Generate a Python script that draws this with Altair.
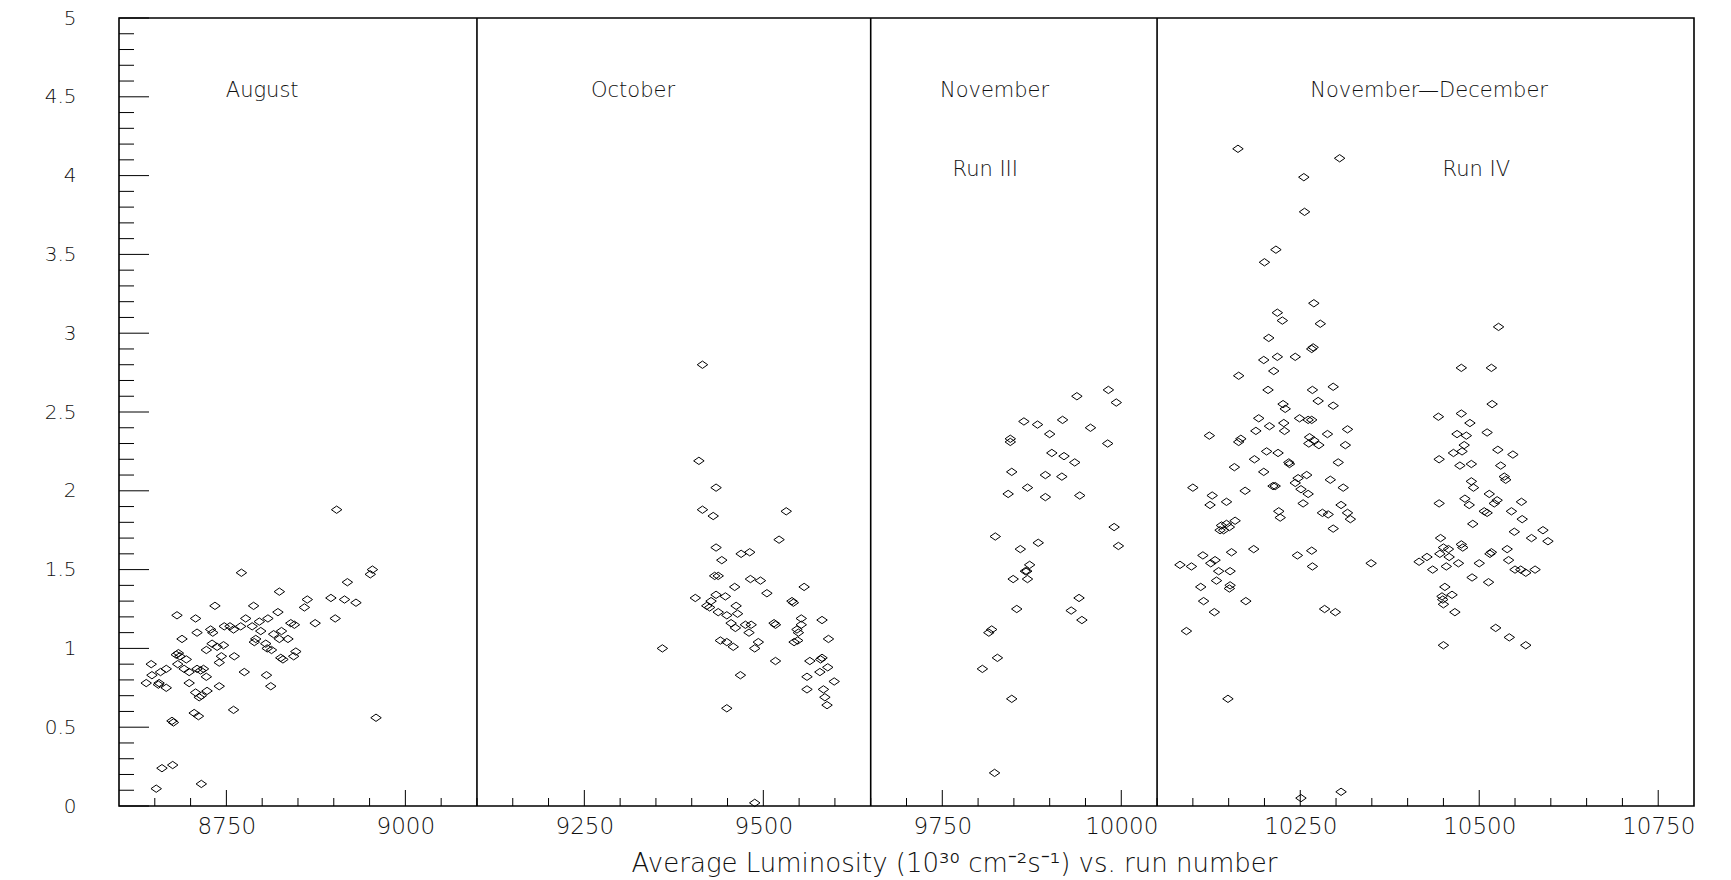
import altair as alt
import pandas as pd

# ---------------------------------------------------------------------------
# Average luminosity per run, grouped by data-taking period
# ---------------------------------------------------------------------------
aug_run = [8904, 8771, 8954, 8951, 8919, 8824, 8896, 8915, 8931, 8863, 8859, 8734,
           8788, 8681, 8707, 8777, 8808, 8822, 8902, 8874, 8840, 8845, 8747, 8755,
           8760, 8770, 8786, 8796, 8798, 8728, 8731, 8709, 8688, 8827, 8816, 8824,
           8836, 8791, 8789, 8805, 8730, 8737, 8746, 8722, 8807, 8813, 8847, 8844,
           8826, 8829, 8683, 8685, 8680, 8694, 8682, 8743, 8740, 8761, 8645, 8666,
           8658, 8646, 8691, 8698, 8709, 8714, 8718, 8722, 8775, 8638, 8655, 8656,
           8666, 8698, 8740, 8806, 8812, 8707, 8723, 8712, 8715, 8760, 8674, 8676,
           8705, 8711, 8959, 8660, 8675, 8715, 8652]
aug_lum = [1.88, 1.48, 1.50, 1.47, 1.42, 1.36, 1.32, 1.31, 1.29, 1.31, 1.26, 1.27,
           1.27, 1.21, 1.19, 1.19, 1.19, 1.23, 1.19, 1.16, 1.16, 1.15, 1.14, 1.14,
           1.12, 1.14, 1.14, 1.17, 1.11, 1.12, 1.10, 1.10, 1.06, 1.11, 1.09, 1.06,
           1.06, 1.06, 1.04, 1.03, 1.03, 1.01, 1.02, 0.99, 1.00, 0.99, 0.98, 0.95,
           0.94, 0.93, 0.97, 0.95, 0.96, 0.93, 0.90, 0.95, 0.91, 0.95, 0.90, 0.87,
           0.85, 0.83, 0.87, 0.85, 0.87, 0.86, 0.87, 0.82, 0.85, 0.78, 0.77, 0.78,
           0.75, 0.78, 0.76, 0.83, 0.76, 0.72, 0.73, 0.69, 0.70, 0.61, 0.54, 0.53,
           0.59, 0.57, 0.56, 0.24, 0.26, 0.14, 0.11]

oct_run = [9415, 9410, 9434, 9415, 9430, 9532, 9522, 9434, 9469, 9481, 9442, 9432,
           9437, 9460, 9482, 9496, 9557, 9505, 9405, 9434, 9447, 9427, 9421, 9425,
           9462, 9437, 9449, 9464, 9540, 9542, 9553, 9582, 9455, 9461, 9475, 9483,
           9480, 9515, 9517, 9553, 9547, 9549, 9591, 9440, 9449, 9458, 9493, 9488,
           9543, 9548, 9359, 9517, 9565, 9580, 9582, 9590, 9579, 9561, 9468, 9599,
           9561, 9584, 9586, 9589, 9449, 9488]
oct_lum = [2.80, 2.19, 2.02, 1.88, 1.84, 1.87, 1.69, 1.64, 1.60, 1.61, 1.56, 1.46,
           1.46, 1.39, 1.44, 1.43, 1.39, 1.35, 1.32, 1.34, 1.33, 1.30, 1.27, 1.26,
           1.27, 1.23, 1.21, 1.22, 1.30, 1.29, 1.19, 1.18, 1.16, 1.13, 1.15, 1.15,
           1.10, 1.16, 1.15, 1.15, 1.12, 1.10, 1.06, 1.05, 1.04, 1.01, 1.04, 1.00,
           1.04, 1.05, 1.00, 0.92, 0.92, 0.93, 0.94, 0.88, 0.85, 0.82, 0.83, 0.79,
           0.74, 0.74, 0.69, 0.64, 0.62, 0.02]

nov_run = [9982, 9993, 9938, 9918, 9864, 9883, 9900, 9957, 9981, 9845, 9845, 9903,
           9920, 9935, 9847, 9894, 9917, 9869, 9842, 9894, 9942, 9990, 9996, 9824,
           9859, 9884, 9872, 9868, 9866, 9849, 9869, 9941, 9930, 9945, 9854, 9819,
           9815, 9827, 9806, 9847, 9823]
nov_lum = [2.64, 2.56, 2.60, 2.45, 2.44, 2.42, 2.36, 2.40, 2.30, 2.33, 2.31, 2.24,
           2.22, 2.18, 2.12, 2.10, 2.09, 2.02, 1.98, 1.96, 1.97, 1.77, 1.65, 1.71,
           1.63, 1.67, 1.53, 1.49, 1.49, 1.44, 1.44, 1.32, 1.24, 1.18, 1.25, 1.12,
           1.10, 0.94, 0.87, 0.68, 0.21]

dec_run = [10163, 10305, 10255, 10256, 10216, 10200, 10269, 10218, 10225, 10278, 10206, 10266,
           10268, 10199, 10218, 10243, 10213, 10164, 10205, 10267, 10296, 10275, 10296, 10226,
           10229, 10249, 10261, 10266, 10192, 10207, 10227, 10228, 10188, 10316, 10123, 10167,
           10164, 10263, 10269, 10262, 10276, 10288, 10313, 10186, 10203, 10219, 10234, 10235,
           10158, 10199, 10303, 10259, 10247, 10243, 10251, 10215, 10212, 10292, 10310, 10173,
           10261, 10100, 10127, 10124, 10147, 10254, 10307, 10220, 10222, 10281, 10289, 10316,
           10320, 10159, 10147, 10140, 10143, 10151, 10138, 10296, 10185, 10154, 10246, 10266,
           10267, 10349, 10082, 10098, 10114, 10125, 10131, 10136, 10152, 10133, 10152, 10151,
           10111, 10115, 10174, 10130, 10284, 10299, 10091, 10149, 10251, 10307,
           10527, 10475, 10517, 10518, 10443, 10475, 10487, 10469, 10482, 10511, 10479, 10464,
           10476, 10444, 10473, 10489, 10526, 10547, 10530, 10535, 10537, 10489, 10492, 10444,
           10480, 10486, 10514, 10525, 10521, 10507, 10511, 10559, 10545, 10560, 10491, 10549,
           10589, 10573, 10596, 10446, 10450, 10457, 10475, 10477, 10517, 10515, 10539, 10445,
           10458, 10427, 10416, 10435, 10454, 10471, 10500, 10541, 10550, 10558, 10565, 10578,
           10490, 10513, 10452, 10448, 10462, 10449, 10450, 10466, 10523, 10542, 10565, 10450]
dec_lum = [4.17, 4.11, 3.99, 3.77, 3.53, 3.45, 3.19, 3.13, 3.08, 3.06, 2.97, 2.90,
           2.91, 2.83, 2.85, 2.85, 2.76, 2.73, 2.64, 2.64, 2.66, 2.57, 2.54, 2.55,
           2.52, 2.46, 2.45, 2.45, 2.46, 2.41, 2.43, 2.38, 2.38, 2.39, 2.35, 2.33,
           2.31, 2.34, 2.32, 2.30, 2.29, 2.36, 2.29, 2.20, 2.25, 2.24, 2.18, 2.17,
           2.15, 2.12, 2.18, 2.10, 2.08, 2.05, 2.01, 2.03, 2.03, 2.07, 2.02, 2.00,
           1.98, 2.02, 1.97, 1.91, 1.93, 1.92, 1.91, 1.87, 1.83, 1.86, 1.85, 1.86,
           1.82, 1.81, 1.79, 1.78, 1.75, 1.77, 1.75, 1.76, 1.63, 1.61, 1.59, 1.62,
           1.52, 1.54, 1.53, 1.52, 1.59, 1.54, 1.56, 1.49, 1.49, 1.43, 1.40, 1.38,
           1.39, 1.30, 1.30, 1.23, 1.25, 1.23, 1.11, 0.68, 0.05, 0.09,
           3.04, 2.78, 2.78, 2.55, 2.47, 2.49, 2.43, 2.36, 2.35, 2.37, 2.29, 2.24,
           2.25, 2.20, 2.16, 2.17, 2.26, 2.23, 2.16, 2.09, 2.07, 2.06, 2.02, 1.92,
           1.95, 1.91, 1.98, 1.94, 1.92, 1.87, 1.86, 1.93, 1.87, 1.82, 1.79, 1.74,
           1.75, 1.70, 1.68, 1.70, 1.64, 1.63, 1.66, 1.64, 1.61, 1.60, 1.63, 1.60,
           1.58, 1.58, 1.55, 1.50, 1.52, 1.54, 1.54, 1.56, 1.50, 1.50, 1.48, 1.50,
           1.45, 1.42, 1.39, 1.33, 1.34, 1.31, 1.28, 1.23, 1.13, 1.07, 1.02, 1.02]

# Period boundaries (run numbers) and the period captions
boundary_runs = [9100, 9650, 10050]
caption_text = ["August", "October", "November", "Run III", "November—December", "Run IV"]
caption_run = [8800, 9318, 9823, 9810, 10430, 10496]
caption_lum = [4.5, 4.5, 4.5, 4.0, 4.5, 4.0]

# Axis tick positions
x_label_vals = [8750, 9000, 9250, 9500, 9750, 10000, 10250, 10500, 10750]
x_minor_vals = [v for v in range(8650, 10800, 50) if v not in x_label_vals]
y_label_vals = [0, 0.5, 1, 1.5, 2, 2.5, 3, 3.5, 4, 4.5, 5]
y_minor_vals = [round(i / 10, 1) for i in range(1, 50) if i % 5]

points = pd.DataFrame({
    "run": aug_run + oct_run + nov_run + dec_run,
    "lum": aug_lum + oct_lum + nov_lum + dec_lum,
})

W, H = 1575, 788
FONT = "DejaVu Sans"
INK = "#111"
x_scale = alt.Scale(domain=[8600, 10800], nice=False, zero=False)
y_scale = alt.Scale(domain=[0, 5], nice=False, zero=False)

# One axis definition per channel, shared by every layer so they merge cleanly
x_axis = alt.Axis(
    values=x_label_vals, format="d", ticks=False, tickSize=0, domain=False, grid=False,
    labelFont=FONT, labelFontSize=23, labelFontWeight=200, labelColor=INK,
    labelPadding=9, labelFlush=False, labelOverlap=False,
    title="Average Luminosity (10³⁰ cm⁻²s⁻¹) vs. run number",
    titleFont=FONT, titleFontSize=26, titleFontWeight=200, titleColor=INK,
    titleX=835, titleY=65, titleAlign="center", titleBaseline="alphabetic")
y_axis = alt.Axis(
    values=y_label_vals, format="~g", ticks=False, tickSize=0, domain=False, grid=False,
    labelFont=FONT, labelFontSize=20, labelFontWeight=200, labelColor=INK,
    labelPadding=43, labelFlush=False, labelOverlap=False, title=None)

def xq(field):
    return alt.X(field, type="quantitative", scale=x_scale, axis=x_axis)

def yq(field):
    return alt.Y(field, type="quantitative", scale=y_scale, axis=y_axis)

# open, slightly flattened diamond
diamond = "M -1 0 L 0 -0.7 L 1 0 L 0 0.7 Z"

scatter = alt.Chart(points).mark_point(
    shape=diamond, filled=False, color="black", strokeWidth=1, size=110, opacity=1
).encode(x=xq("run"), y=yq("lum"))

def x_ticks(vals, length):
    return alt.Chart(pd.DataFrame({"v": vals})).mark_rule(color="black", strokeWidth=1).encode(
        x=xq("v"), y=alt.value(H), y2=alt.value(H - length))

def y_ticks(vals, length):
    return alt.Chart(pd.DataFrame({"v": vals})).mark_rule(color="black", strokeWidth=1).encode(
        y=yq("v"), x=alt.value(0), x2=alt.value(length))

dividers = alt.Chart(pd.DataFrame({"v": boundary_runs})).mark_rule(
    color="black", strokeWidth=1.6
).encode(x=xq("v"), y=alt.value(0), y2=alt.value(H))

captions = alt.Chart(pd.DataFrame({
    "text": caption_text, "run": caption_run, "lum": caption_lum
})).mark_text(
    font=FONT, fontSize=21, fontWeight=200, color=INK, align="center", baseline="alphabetic"
).encode(x=xq("run"), y=yq("lum"), text="text:N")

chart = alt.layer(
    scatter,
    x_ticks(x_minor_vals, 8), x_ticks(x_label_vals, 16),
    y_ticks(y_minor_vals, 15), y_ticks(y_label_vals, 30),
    dividers, captions,
).properties(
    width=W, height=H,
    padding={"left": 119, "top": 18, "right": 37, "bottom": 74},
    autosize=alt.AutoSizeParams(type="none"),
    background="white",
).configure_view(stroke="black", strokeWidth=1.6)

chart.save("out.html", embed_options={"renderer": "svg", "actions": False})
